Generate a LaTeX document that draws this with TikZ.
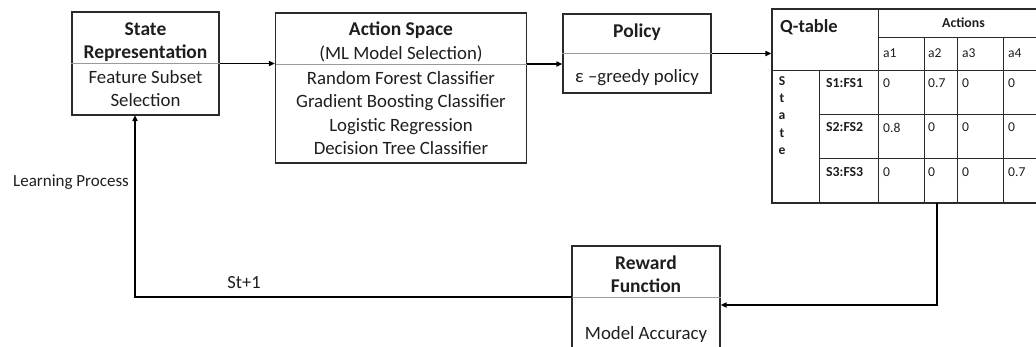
\documentclass[tikz,border=0pt]{standalone}
\usepackage{fontspec}
\setmainfont{Carlito}
\usetikzlibrary{calc,arrows.meta}
\definecolor{ink}{HTML}{1E1E1E}
\definecolor{boxline}{HTML}{2B2B2B}
\definecolor{divline}{HTML}{9A9A9A}
\tikzset{
  box/.style={draw=boxline, line width=1.1pt, inner sep=0pt},
  divider/.style={draw=divline, line width=0.9pt},
  grid/.style={draw=boxline, line width=1.0pt},
  txt/.style={font=\fontsize{18.8}{23.5}\selectfont, text=ink, align=center, inner sep=0pt},
  ttl/.style={txt, font=\fontsize{19.5}{23.5}\selectfont\bfseries},
  cell/.style={font=\fontsize{13.6}{15}\selectfont, text=ink, anchor=west, inner sep=0pt},
  bcell/.style={cell, font=\fontsize{13.8}{15}\selectfont\bfseries},
  arr/.style={-{Triangle[length=6pt,width=5pt]}, line width=1.6pt, draw=black},
}
\begin{document}
\begin{tikzpicture}[x=1pt,y=-1pt]
\useasboundingbox (0,0) rectangle (1036,346);

% State representation
\node[box, minimum width=147pt, minimum height=103pt] (state) at (145.5,63.5) {};
\draw[divider] (state.west) -- (state.east);
\node[ttl] (statet) at (145.5,42) {State\\Representation};
\node[txt] (stateb) at (145.5,88.5) {Feature Subset\\Selection};

% Action space
\node[box, minimum width=251pt, minimum height=150pt] (action) at (401,88) {};
\coordinate (actdiv) at (276,64);
\draw[divider] (actdiv) -- (actdiv -| action.east);
\node[ttl] (actiont) at (401,30.5) {Action Space};
\node[txt] (actions) at (401,53.5) {(ML Model Selection)};
\node[txt] (actionb) at (401,113) {Random Forest Classifier\\Gradient Boosting Classifier\\Logistic Regression\\Decision Tree Classifier};

% Policy
\node[box, minimum width=148pt, minimum height=79pt] (policy) at (637,53.5) {};
\draw[divider] (policy.west) -- (policy.east);
\node[ttl] (policyt) at (637,32.5) {Policy};
\node[txt] (policyb) at (637,77.5) {ε –greedy policy};

% Q-table
\node[box, minimum width=277pt, minimum height=194pt] (qtab) at (910.5,106) {};
\draw[grid] (878,9) -- (878,203);
\draw[grid] (878,37) -- (1049,37);
\draw[grid] (772,70) -- (1049,70);
\draw[grid] (819,70) -- (819,203);
\foreach \cx in {924,957,1003} \draw[grid] (\cx,37) -- (\cx,203);
\foreach \ry in {114,158} \draw[grid] (819,\ry) -- (1049,\ry);
\node[font=\fontsize{18.5}{21}\selectfont\bfseries, text=ink, anchor=west, inner sep=0pt] (qtitle) at (780,27) {Q-table};
\node[bcell, anchor=center] (acts) at (963.5,22.5) {Actions};
\node[cell] (a1) at (883,53.5) {a1};
\node[cell] (a2) at (928,53.5) {a2};
\node[cell] (a3) at (962,53.5) {a3};
\node[cell] (a4) at (1008,53.5) {a4};
\node[bcell, anchor=north, align=center, font=\fontsize{13.6}{17.3}\selectfont\bfseries] (stlbl) at (782,76) {S\\t\\a\\t\\e};
\node[bcell] (s1) at (826,83) {S1:FS1};
\node[bcell] (s2) at (826,127.5) {S2:FS2};
\node[bcell] (s3) at (826,172) {S3:FS3};
\node[cell] (v11) at (883,83) {0};
\node[cell] (v12) at (928,83) {0.7};
\node[cell] (v13) at (962,83) {0};
\node[cell] (v14) at (1008,83) {0};
\node[cell] (v21) at (883,127.5) {0.8};
\node[cell] (v22) at (928,127.5) {0};
\node[cell] (v23) at (962,127.5) {0};
\node[cell] (v24) at (1008,127.5) {0};
\node[cell] (v31) at (883,172) {0};
\node[cell] (v32) at (928,172) {0};
\node[cell] (v33) at (962,172) {0};
\node[cell] (v34) at (1008,172) {0.7};

% Reward function
\node[box, minimum width=148pt, minimum height=118pt] (reward) at (646,305) {};
\coordinate (rewdiv) at (572,297);
\draw[divider] (rewdiv) -- (rewdiv -| reward.east);
\node[ttl] (rewardt) at (646,274) {Reward\\Function};
\node[txt] (rewardb) at (646,334) {Model Accuracy};

% Connectors
\draw[arr] (state.east) -- (state.east -| action.west);
\draw[arr] (actdiv -| action.east) -- (actdiv -| policy.west);
\draw[arr] (policy.east) -- (policy.east -| qtab.west);
\coordinate (tabout) at (937,203);
\draw[arr] (tabout) |- (reward.east);
\coordinate (loopup) at (135,115);
\draw[arr] (rewdiv) -| (loopup);

% Labels
\node[font=\fontsize{17}{20}\selectfont, text=ink, anchor=east, inner sep=0pt] (learn) at (129,182) {Learning Process};
\node[font=\fontsize{18.5}{21}\selectfont, text=ink, inner sep=0pt] (stp) at (244,283) {St+1};
\end{tikzpicture}
\end{document}
